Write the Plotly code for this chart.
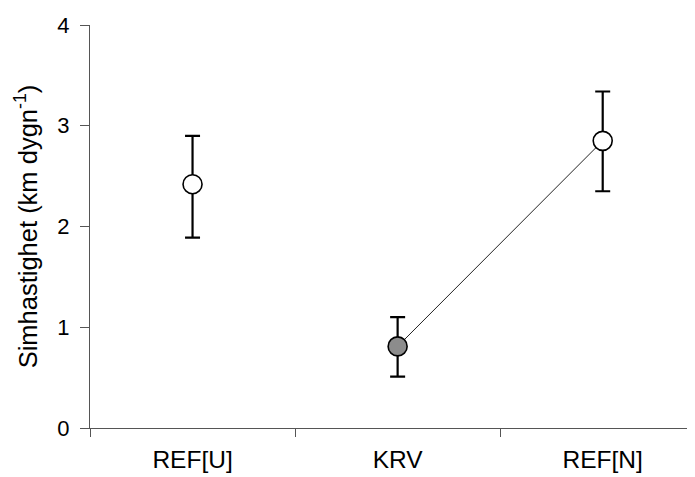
import plotly.graph_objects as go

categories = ["REF[U]", "KRV", "REF[N]"]
speed = [2.42, 0.81, 2.85]
err_plus = [0.48, 0.29, 0.49]
err_minus = [0.53, 0.30, 0.50]
fill_colors = ["white", "#8c8c8c", "white"]
linked = ["KRV", "REF[N]"]
linked_vals = [0.81, 2.85]
y_ticks = [0, 1, 2, 3, 4]

fig = go.Figure()
fig.add_trace(go.Scatter(
    x=linked, y=linked_vals, mode="lines",
    line=dict(color="#222", width=1), showlegend=False, hoverinfo="skip"))
fig.add_trace(go.Scatter(
    x=categories, y=speed, mode="markers",
    marker=dict(size=19, color=fill_colors, line=dict(color="black", width=1.6)),
    error_y=dict(type="data", symmetric=False, array=err_plus, arrayminus=err_minus,
                 color="black", thickness=2.2, width=7.5),
    showlegend=False))

# page body adds an 8px offset, so the figure is sized to fit the window
fig.update_layout(
    width=687, height=469,
    margin=dict(l=82, r=0, t=17, b=49),
    paper_bgcolor="white", plot_bgcolor="white",
    font=dict(family="Liberation Sans, Arial, sans-serif", size=22, color="black"),
    xaxis=dict(type="category", categoryorder="array", categoryarray=categories,
               range=[-0.5, 2.45], showline=True, linecolor="#555", linewidth=1,
               ticks="outside", tickson="boundaries", ticklen=8, tickcolor="#555",
               showgrid=False, zeroline=False, tickfont=dict(size=24.5),
               ticklabelstandoff=10),
    yaxis=dict(range=[0, 4], tickvals=y_ticks, showline=True, linecolor="#555",
               linewidth=1, ticks="outside", ticklen=9, tickcolor="#555",
               showgrid=False, zeroline=False, tickfont=dict(size=22),
               ticklabelstandoff=6,
               title=dict(text="Simhastighet (km dygn<sup>-1</sup>)",
                          font=dict(size=25.5), standoff=12)),
)
fig.write_html("out.html")
